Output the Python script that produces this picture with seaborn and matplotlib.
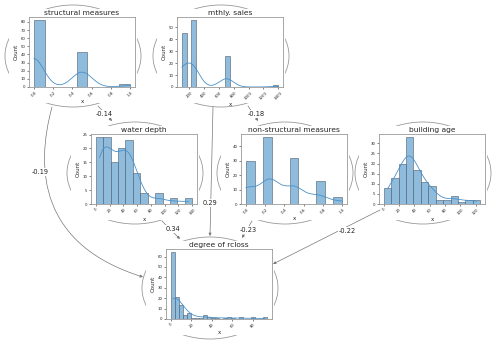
import numpy as np
import matplotlib
matplotlib.use("Agg")
import matplotlib.pyplot as plt
import seaborn as sns
from matplotlib.patches import Ellipse, Rectangle, FancyArrowPatch
from matplotlib.path import Path
from matplotlib.ticker import MultipleLocator

sns.set_style("white")

# histogram values
structural_vals = [0.0, 0.5, 1.0]
structural_counts = [82, 43, 4]

sales_vals = [100, 250, 700, 1400]
sales_counts = [45, 56, 26, 2]

depth_counts = [24, 24, 15, 20, 23, 11, 4, 0, 4, 0, 2, 0, 2]
depth_range = (0, 140)

nonstruct_vals = [0.0, 0.25, 0.5, 0.75, 1.0]
nonstruct_counts = [30, 46, 32, 16, 5]

age_counts = [8, 13, 20, 33, 17, 11, 9, 2, 2, 4, 1, 2, 2]
age_range = (0, 126)

rcloss_counts = [64, 21, 13, 4, 6, 1, 1, 1, 4, 2, 1, 1, 0, 1, 2, 1, 0, 2, 0, 0, 2, 0, 0, 2]
rcloss_range = (0, 94)

# edge weights
edge_labels = ["-0.14", "-0.18", "-0.19", "0.29", "0.34", "-0.23", "-0.22"]

W, H = 500, 345
fig = plt.figure(figsize=(W / 100, H / 100), dpi=100)


def centers(rng, n):
    edges = np.linspace(rng[0], rng[1], n + 1)
    return (edges[:-1] + edges[1:]) / 2


# node centers in pixel space
nodes = {
    "structural measures": (73, 56),
    "mthly. sales": (221, 56),
    "water depth": (135, 173),
    "non-structural measures": (285, 173),
    "building age": (423, 173),
    "degree of rcloss": (210, 288),
}

hist_data = {
    "structural measures": (structural_vals, structural_counts, 9, (0, 1), 0.2, 10),
    "mthly. sales": (sales_vals, sales_counts, 20, (100, 1400), 200, 10),
    "water depth": (centers(depth_range, len(depth_counts)), depth_counts,
                    len(depth_counts), depth_range, 20, 5),
    "non-structural measures": (nonstruct_vals, nonstruct_counts, 11, (0, 1), 0.2, 10),
    "building age": (centers(age_range, len(age_counts)), age_counts,
                     len(age_counts), age_range, 20, 5),
    "degree of rcloss": (centers(rcloss_range, len(rcloss_counts)), rcloss_counts,
                         len(rcloss_counts), rcloss_range, 20, 10),
}

# background: node ellipses, covered by the white node images
ax_bg = fig.add_axes([0, 0, 1, 1])
ax_bg.set_xlim(0, W)
ax_bg.set_ylim(H, 0)
ax_bg.axis("off")
for name, (cx, cy) in nodes.items():
    ax_bg.add_patch(Ellipse((cx, cy), 136, 102, fill=False, ec="#999999", lw=0.6))
    ax_bg.add_patch(Rectangle((cx - 64, cy - 47), 128, 94, fc="white", ec="none"))

# node histograms
for name, (cx, cy) in nodes.items():
    vals, counts, bins, brange, xstep, ystep = hist_data[name]
    left, right, top, bottom = cx - 44, cx + 62, cy - 39, cy + 31
    ax = fig.add_axes([left / W, 1 - bottom / H, (right - left) / W, (bottom - top) / H])
    data = np.repeat(np.asarray(vals, dtype=float), counts)
    sns.histplot(x=data, bins=bins, binrange=brange, kde=True, ax=ax,
                 color="#4a90c8", facecolor="#8fbcdc", alpha=1,
                 edgecolor="#4a5a6a", linewidth=0.4,
                 line_kws={"linewidth": 0.6})
    ax.set_title(name, fontsize=5.4, pad=1.5)
    ax.set_xlabel("x", fontsize=4, labelpad=1)
    ax.set_ylabel("Count", fontsize=4, labelpad=1)
    ax.xaxis.set_major_locator(MultipleLocator(xstep))
    ax.yaxis.set_major_locator(MultipleLocator(ystep))
    ax.tick_params(labelsize=2.8, length=1.5, width=0.4, pad=1, left=True, bottom=True)
    for lab in ax.get_xticklabels():
        lab.set_rotation(45)
    for sp in ax.spines.values():
        sp.set_color("#999999")
        sp.set_linewidth(0.6)

# edges on top
ax_top = fig.add_axes([0, 0, 1, 1], zorder=5)
ax_top.set_xlim(0, W)
ax_top.set_ylim(H, 0)
ax_top.axis("off")
ax_top.patch.set_visible(False)

edges = [
    ([(98, 106), (112, 121)], (104, 114)),
    ([(248, 106), (258, 121)], (256, 114)),
    ([(52, 107), (35, 170), (40, 245), (143, 277)], (40, 172)),
    ([(213, 107), (210, 236)], (210, 203)),
    ([(162, 221), (180, 239)], (173, 229)),
    ([(252, 221), (242, 238)], (248, 230)),
    ([(380, 210), (273, 264)], (347, 231)),
]

for (pts, lpos), label in zip(edges, edge_labels):
    if len(pts) == 2:
        path = Path(pts, [Path.MOVETO, Path.LINETO])
    else:
        path = Path(pts, [Path.MOVETO, Path.CURVE4, Path.CURVE4, Path.CURVE4])
    arr = FancyArrowPatch(path=path, arrowstyle="-|>", mutation_scale=4,
                          lw=0.5, color="#777777", shrinkA=0, shrinkB=0)
    ax_top.add_patch(arr)
    ax_top.text(lpos[0], lpos[1], label, fontsize=4.8, ha="center", va="center",
                color="#222222",
                bbox=dict(fc="white", ec="none", pad=0.4))

fig.savefig("out.png", dpi=100)
